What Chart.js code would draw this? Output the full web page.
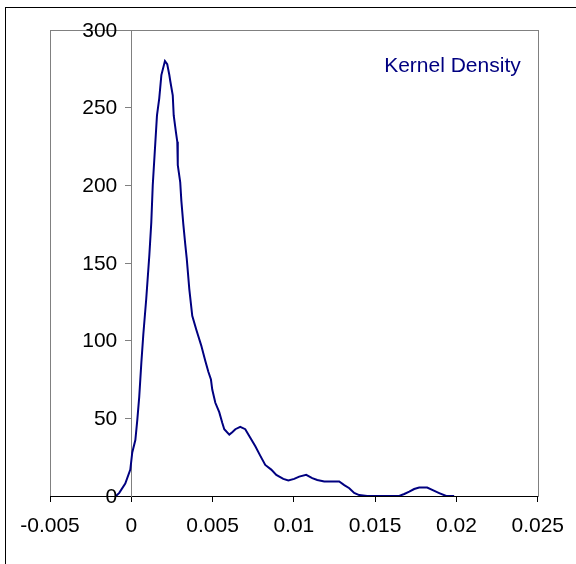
<!DOCTYPE html>
<html>
<head>
<meta charset="utf-8">
<script src="https://cdn.jsdelivr.net/npm/chart.js@4"></script>
<style>
  html, body { margin: 0; padding: 0; background: #fff; }
  canvas { display: block; }
</style>
</head>
<body>
<canvas id="kdChart" width="576" height="564"></canvas>
<script>
// kernel density estimate, sampled along the return axis
const seriesName = 'Kernel Density';
const xs = [
  -0.00094, -0.00074, -0.00037, -0.00006, 0.00006, 0.00025, 0.00037, 0.00049,
  0.00062, 0.00074, 0.00092, 0.00111, 0.00123, 0.00132, 0.00158, 0.00172,
  0.00185, 0.00207, 0.00221, 0.00234, 0.00240, 0.00255, 0.00261, 0.00275,
  0.00283, 0.00286, 0.00301, 0.00308, 0.00320, 0.00332, 0.00341, 0.00357,
  0.00375, 0.00400, 0.00412, 0.00430, 0.00455, 0.00474, 0.00490, 0.00498,
  0.00517, 0.00541, 0.00560, 0.00572, 0.00603, 0.00621, 0.00640, 0.00670,
  0.00701, 0.00732, 0.00763, 0.00793, 0.00824, 0.00861, 0.00892, 0.00935,
  0.00966, 0.01002, 0.01033, 0.01076, 0.01113, 0.01144, 0.01187, 0.01279,
  0.01310, 0.01341, 0.01371, 0.01402, 0.01451, 0.01648, 0.01679, 0.01710,
  0.01740, 0.01771, 0.01820, 0.01851, 0.01894, 0.01937, 0.01986
];
const density = [
  0, 2, 8, 17, 28, 36, 49, 64,
  86, 104, 127, 155, 176, 200, 245, 256,
  271, 280, 278, 271, 267, 258, 245, 234,
  228, 213, 202, 190, 175, 162, 153, 133,
  116, 107, 103, 97, 87, 80, 75, 68.5,
  60, 54, 47, 43, 39.5, 41, 43, 44.5,
  43, 37.5, 32, 26, 20, 17, 13.6, 11,
  10, 11, 12.5, 13.6, 11.5, 10.3, 9.3, 9.3,
  7, 5, 2, 0.6, 0, 0, 1.3, 2.8,
  4.5, 5.4, 5.4, 3.9, 1.9, 0, 0
];
const xTicks = [-0.005, 0, 0.005, 0.01, 0.015, 0.02, 0.025];
const xTickLabels = ['-0.005', '0', '0.005', '0.01', '0.015', '0.02', '0.025'];
const yTicks = [0, 50, 100, 150, 200, 250, 300];
const yTickLabels = ['0', '50', '100', '150', '200', '250', '300'];

const FONT = '"Liberation Sans", Arial, sans-serif';
Chart.defaults.font.family = FONT;
Chart.defaults.font.size = 21;
Chart.defaults.color = '#000';

// white page, outer frame, grey plot box, y labels beside the zero line
// and the series caption
const framePlugin = {
  id: 'frame',
  beforeDraw(chart) {
    const ctx = chart.ctx;
    ctx.save();
    ctx.fillStyle = '#fff';
    ctx.fillRect(0, 0, chart.width, chart.height);
    ctx.strokeStyle = '#000';
    ctx.lineWidth = 1;
    ctx.strokeRect(5.5, 7.5, chart.width + 20, chart.height + 20);
    const a = chart.chartArea;
    ctx.strokeStyle = '#808080';
    ctx.strokeRect(Math.round(a.left) + 0.5, Math.round(a.top) + 0.5,
      Math.round(a.right - a.left), Math.round(a.bottom - a.top));
    ctx.restore();
  },
  afterDraw(chart) {
    const ctx = chart.ctx;
    const a = chart.chartArea;
    const xScale = chart.scales.x;
    const yScale = chart.scales.y;
    const axisX = xScale.getPixelForValue(0);
    ctx.save();
    ctx.font = '21px ' + FONT;
    ctx.fillStyle = '#000';
    ctx.textAlign = 'right';
    ctx.textBaseline = 'middle';
    yTicks.forEach((v, i) => {
      ctx.fillText(yTickLabels[i], axisX - 14, yScale.getPixelForValue(v) + 1);
    });
    ctx.fillStyle = '#000080';
    ctx.textBaseline = 'alphabetic';
    ctx.fillText(chart.data.datasets[0].label, a.right - 17, a.top + 42);
    ctx.restore();
  }
};

new Chart(document.getElementById('kdChart'), {
  type: 'line',
  data: {
    datasets: [{
      label: seriesName,
      data: xs.map((x, i) => ({ x: x, y: density[i] })),
      borderColor: '#000080',
      borderWidth: 2,
      pointRadius: 0,
      tension: 0,
      fill: false
    }]
  },
  options: {
    responsive: false,
    animation: false,
    layout: { padding: { left: 50, right: 38, top: 30, bottom: 0 } },
    plugins: {
      legend: { display: false },
      tooltip: { enabled: false }
    },
    scales: {
      x: {
        type: 'linear',
        position: 'bottom',
        min: -0.005,
        max: 0.025,
        afterBuildTicks: (scale) => { scale.ticks = xTicks.map(v => ({ value: v })); },
        afterFit: (scale) => { scale.height = 68; },
        ticks: {
          padding: 12,
          maxRotation: 0,
          autoSkip: false,
          callback: (v, i) => xTickLabels[i]
        },
        grid: {
          drawOnChartArea: false,
          drawTicks: true,
          tickLength: 6,
          tickColor: '#000'
        },
        border: { display: true, color: '#000', width: 1 }
      },
      y: {
        type: 'linear',
        position: { x: 0 },
        min: 0,
        max: 300,
        afterBuildTicks: (scale) => { scale.ticks = yTicks.map(v => ({ value: v })); },
        ticks: { display: false },
        grid: {
          drawOnChartArea: false,
          drawTicks: true,
          tickLength: 6,
          tickColor: '#808080'
        },
        border: { display: true, color: '#808080', width: 1 }
      }
    }
  },
  plugins: [framePlugin]
});
</script>
</body>
</html>
